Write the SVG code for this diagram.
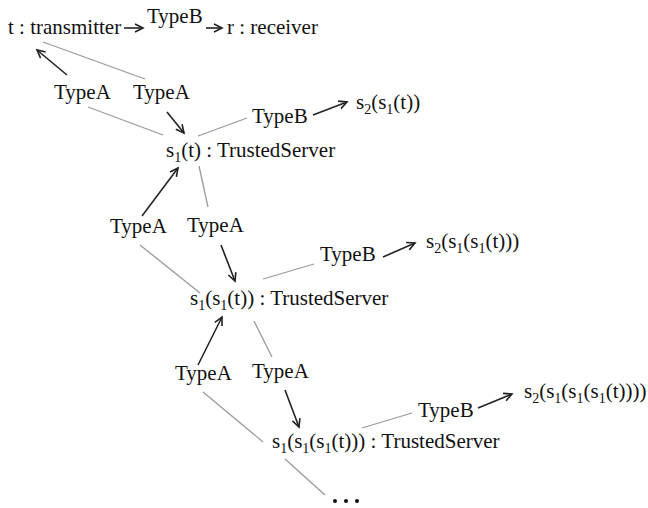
<svg xmlns="http://www.w3.org/2000/svg" width="648" height="508" viewBox="0 0 648 508">
<style>
text{font-family:"Liberation Serif","Times New Roman",serif;font-size:21px;fill:#111}
.sub{font-size:14px}
.g{stroke:#9a9a9a;stroke-width:1.3;fill:none}
.a{stroke:#222;stroke-width:1.6;fill:none;marker-end:url(#ah)}
</style>
<defs>
<marker id="ah" markerUnits="userSpaceOnUse" markerWidth="12" markerHeight="12" refX="9" refY="5" orient="auto">
<path d="M1,1 L9,5 L1,9" fill="none" stroke="#222" stroke-width="1.6"/>
</marker>
</defs>
<rect width="648" height="508" fill="#fff"/>
<g id="connectors">
<line class="a" x1="124" y1="28" x2="143" y2="28"/>
<line class="a" x1="206" y1="28" x2="222" y2="28"/>
<line class="g" x1="43" y1="42" x2="145" y2="79"/>
<line class="a" x1="67" y1="75" x2="37" y2="50"/>
<line class="g" x1="88" y1="107" x2="163" y2="135"/>
<line class="a" x1="167" y1="112" x2="184" y2="133"/>
<line class="g" x1="198" y1="136" x2="247" y2="118"/>
<line class="a" x1="313" y1="115" x2="347" y2="102"/>
<line class="g" x1="199" y1="166" x2="208" y2="207"/>
<line class="a" x1="142" y1="216" x2="178" y2="168"/>
<line class="g" x1="140" y1="245" x2="200" y2="293"/>
<line class="a" x1="221" y1="245" x2="235" y2="281"/>
<line class="g" x1="263" y1="279" x2="314" y2="264"/>
<line class="a" x1="383" y1="257" x2="415" y2="243"/>
<line class="a" x1="198" y1="365" x2="222" y2="317"/>
<line class="g" x1="254" y1="321" x2="272" y2="357"/>
<line class="g" x1="203" y1="392" x2="263" y2="442"/>
<line class="a" x1="285" y1="390" x2="299" y2="427"/>
<line class="g" x1="362" y1="428" x2="412" y2="413"/>
<line class="a" x1="478" y1="408" x2="512" y2="394"/>
<line class="g" x1="285" y1="459" x2="325" y2="495"/>
</g>
<g id="transmitter"><text x="8" y="34">t : transmitter</text></g>
<g id="typeB-top"><text x="147" y="23">TypeB</text></g>
<g id="receiver"><text x="227" y="34">r : receiver</text></g>
<g id="typeA-1a"><text x="54" y="99">TypeA</text></g>
<g id="typeA-1b"><text x="133" y="99">TypeA</text></g>
<g id="typeB-1"><text x="252" y="123">TypeB</text></g>
<g id="s2-1"><text x="356" y="109">s<tspan class="sub" dy="5">2</tspan><tspan dy="-5">(s</tspan><tspan class="sub" dy="5">1</tspan><tspan dy="-5">(t))</tspan></text></g>
<g id="server1"><text x="166" y="157">s<tspan class="sub" dy="5">1</tspan><tspan dy="-5">(t) : TrustedServer</tspan></text></g>
<g id="typeA-2a"><text x="110" y="233">TypeA</text></g>
<g id="typeA-2b"><text x="187" y="232">TypeA</text></g>
<g id="typeB-2"><text x="320" y="261">TypeB</text></g>
<g id="s2-2"><text x="426" y="248">s<tspan class="sub" dy="5">2</tspan><tspan dy="-5">(s</tspan><tspan class="sub" dy="5">1</tspan><tspan dy="-5">(s</tspan><tspan class="sub" dy="5">1</tspan><tspan dy="-5">(t)))</tspan></text></g>
<g id="server2"><text x="190" y="305">s<tspan class="sub" dy="5">1</tspan><tspan dy="-5">(s</tspan><tspan class="sub" dy="5">1</tspan><tspan dy="-5">(t)) : TrustedServer</tspan></text></g>
<g id="typeA-3a"><text x="175" y="380">TypeA</text></g>
<g id="typeA-3b"><text x="252" y="378">TypeA</text></g>
<g id="typeB-3"><text x="418" y="417">TypeB</text></g>
<g id="s2-3"><text x="524" y="398">s<tspan class="sub" dy="5">2</tspan><tspan dy="-5">(s</tspan><tspan class="sub" dy="5">1</tspan><tspan dy="-5">(s</tspan><tspan class="sub" dy="5">1</tspan><tspan dy="-5">(s</tspan><tspan class="sub" dy="5">1</tspan><tspan dy="-5">(t))))</tspan></text></g>
<g id="server3"><text x="272" y="448">s<tspan class="sub" dy="5">1</tspan><tspan dy="-5">(s</tspan><tspan class="sub" dy="5">1</tspan><tspan dy="-5">(s</tspan><tspan class="sub" dy="5">1</tspan><tspan dy="-5">(t))) : TrustedServer</tspan></text></g>
<g id="ellipsis" fill="#111"><circle cx="335" cy="501" r="2"/><circle cx="346" cy="501" r="2"/><circle cx="357" cy="501" r="2"/></g>
</svg>
